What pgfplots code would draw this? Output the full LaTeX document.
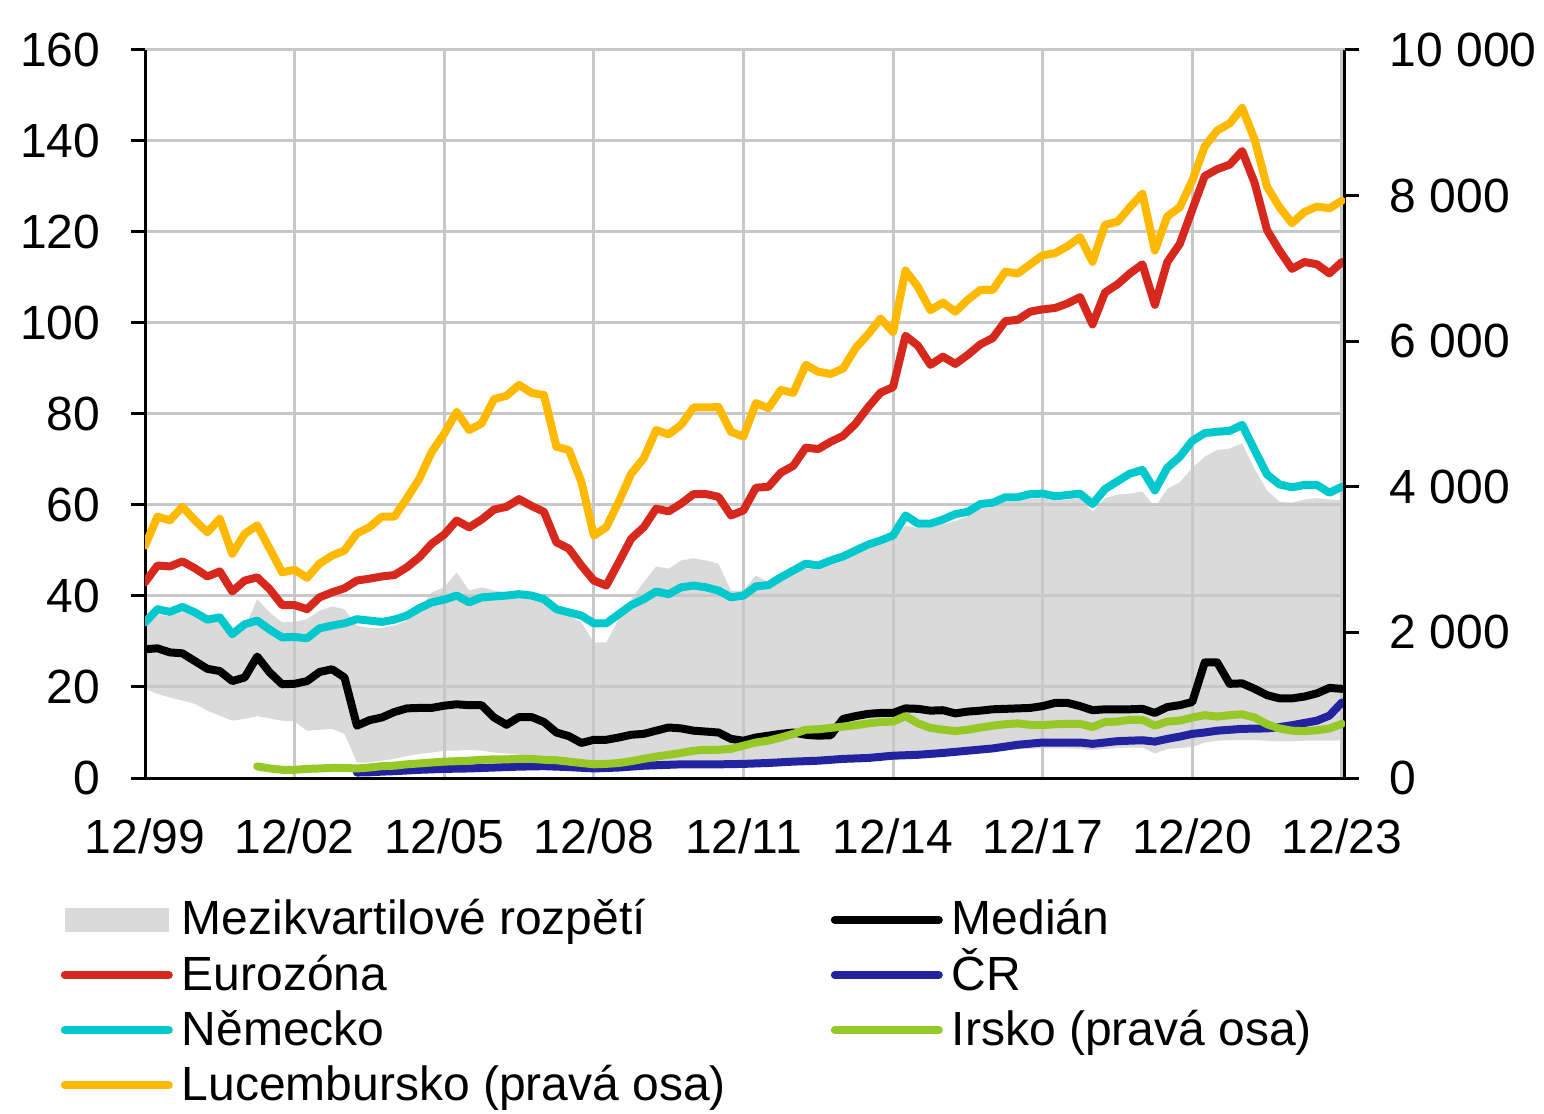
\documentclass[border=0pt]{standalone}
\usepackage{fontspec}
\setmainfont{Liberation Sans}
\usepackage{pgfplots}
\usepackage{pgfplotstable}
\pgfplotsset{compat=1.18}
\usepgfplotslibrary{fillbetween}

\definecolor{cEA}{RGB}{215,40,30}
\definecolor{cDE}{RGB}{0,200,205}
\definecolor{cLU}{RGB}{255,185,0}
\definecolor{cIE}{RGB}{150,200,40}
\definecolor{cCR}{RGB}{35,35,160}
\definecolor{cBand}{RGB}{218,218,218}
\definecolor{cGrid}{RGB}{200,200,200}

% quarters since 12/99; left axis series
\pgfplotstableread{
q hi lo med ea de cr
0 33.0 19.6 28.3 43.0 34.2 nan
1 36.0 18.5 28.5 46.7 37.1 nan
2 35.5 17.7 27.6 46.5 36.5 nan
3 36.5 17.0 27.4 47.6 37.6 nan
4 35.5 16.3 25.7 46.1 36.4 nan
5 34.0 14.8 24.0 44.3 34.8 nan
6 34.5 13.7 23.5 45.4 35.3 nan
7 31.0 12.6 21.3 41.0 31.6 nan
8 33.0 13.0 22.1 43.4 33.8 nan
9 39.3 13.6 26.7 44.1 34.6 nan
10 36.4 13.1 23.2 41.5 32.6 nan
11 34.2 12.6 20.6 38.0 30.9 nan
12 34.3 12.4 20.7 38.0 31.0 nan
13 34.9 10.4 21.3 37.1 30.7 nan
14 36.8 10.6 23.3 39.7 32.9 nan
15 37.7 10.8 23.9 40.8 33.5 nan
16 37.1 9.7 22.1 41.7 34.0 nan
17 33.5 3.4 11.5 43.4 34.9 1.2
18 33.0 3.4 12.7 43.8 34.6 1.25
19 33.0 3.8 13.3 44.3 34.3 1.4
20 33.5 4.2 14.5 44.6 34.8 1.5
21 34.6 4.8 15.3 46.3 35.7 1.65
22 37.1 5.3 15.4 48.5 37.3 1.8
23 40.8 5.6 15.4 51.5 38.6 1.9
24 41.9 6.0 15.9 53.5 39.2 2.0
25 45.2 6.0 16.2 56.6 40.1 2.05
26 41.2 6.2 16.0 55.1 38.6 2.1
27 41.9 6.0 16.0 56.8 39.7 2.2
28 41.2 5.6 13.3 59.0 39.9 2.3
29 40.8 5.4 11.7 59.6 40.1 2.4
30 40.1 5.1 13.4 61.3 40.4 2.5
31 40.1 4.8 13.4 59.8 40.1 2.55
32 39.3 4.5 12.3 58.5 39.3 2.6
33 37.0 4.2 10.0 51.8 37.1 2.5
34 35.7 3.8 9.2 50.4 36.4 2.4
35 34.2 3.4 7.7 46.7 35.7 2.25
36 29.8 2.2 8.4 43.4 34.0 2.1
37 29.8 2.3 8.4 42.3 34.0 2.2
38 34.9 2.4 8.9 47.4 36.0 2.3
39 39.3 2.5 9.5 52.6 38.0 2.5
40 43.0 2.6 9.7 55.1 39.3 2.7
41 46.5 2.7 10.4 59.2 41.0 2.8
42 46.0 2.8 11.1 58.6 40.4 2.9
43 47.8 2.9 10.9 60.3 41.9 3.0
44 48.3 2.9 10.4 62.4 42.3 3.0
45 47.8 2.9 10.2 62.4 41.9 3.0
46 47.1 2.9 10.0 61.8 41.2 3.0
47 41.2 2.9 8.6 57.7 39.7 3.05
48 41.2 3.0 8.2 58.8 40.1 3.1
49 44.5 3.1 8.9 63.8 42.1 3.2
50 43.0 3.2 9.3 64.0 42.4 3.3
51 43.2 3.3 9.7 67.1 44.1 3.45
52 44.6 3.4 10.0 68.6 45.6 3.6
53 46.1 3.5 9.5 72.6 47.1 3.7
54 45.7 3.6 9.3 72.3 46.7 3.8
55 46.8 3.8 9.4 73.9 47.8 4.0
56 47.7 4.0 13.0 75.2 48.7 4.2
57 49.0 4.1 13.6 77.9 50.0 4.3
58 50.3 4.3 14.1 81.5 51.3 4.4
59 51.2 4.5 14.3 84.7 52.2 4.65
60 52.3 4.6 14.3 85.9 53.3 4.9
61 55.5 4.8 15.3 97.2 57.7 5.0
62 54.9 5.0 15.2 95.0 55.9 5.1
63 54.9 5.1 14.8 90.8 55.9 5.3
64 55.8 5.2 14.9 92.6 56.8 5.5
65 56.5 5.4 14.2 91.0 58.0 5.75
66 57.5 5.6 14.6 93.0 58.5 6.0
67 59.2 5.7 14.8 95.3 60.2 6.25
68 59.5 5.9 15.1 96.7 60.5 6.5
69 60.7 6.1 15.2 100.4 61.7 6.9
70 60.7 6.3 15.3 100.7 61.7 7.3
71 61.4 6.4 15.4 102.5 62.4 7.55
72 61.5 6.5 15.8 103.0 62.5 7.8
73 60.9 6.5 16.5 103.3 61.9 7.8
74 61.2 6.5 16.5 104.3 62.2 7.8
75 61.5 6.4 15.8 105.7 62.5 7.8
76 58.5 6.1 14.9 99.7 60.2 7.5
77 61.5 6.4 15.1 106.7 63.5 7.8
78 62.3 6.6 15.1 108.5 65.2 8.1
79 62.5 6.7 15.1 110.9 66.9 8.2
80 63.0 6.7 15.2 112.9 67.7 8.3
81 59.5 5.4 14.3 104.0 63.2 8.0
82 63.5 6.4 15.6 113.4 68.2 8.6
83 65.0 6.6 16.0 117.4 70.6 9.1
84 68.2 6.8 16.7 124.9 74.1 9.7
85 70.6 7.8 25.4 132.3 75.8 10.0
86 72.1 8.2 25.4 133.8 76.1 10.4
87 72.4 8.3 20.7 134.8 76.3 10.6
88 73.6 8.3 20.8 137.8 77.6 10.8
89 67.9 8.3 19.6 130.8 72.1 10.85
90 63.2 8.2 18.2 120.4 66.7 10.9
91 60.7 8.1 17.5 115.9 64.5 11.2
92 60.5 8.1 17.5 111.9 63.9 11.6
93 61.2 8.2 17.9 113.4 64.4 12.1
94 61.5 8.2 18.6 112.9 64.4 12.6
95 61.2 8.2 19.8 110.9 62.7 13.7
96 61.0 8.3 19.6 113.4 64.0 16.6
}\tblL

% right axis series
\pgfplotstableread{
q lu ie
0 3190 nan
1 3590 nan
2 3540 nan
3 3725 nan
4 3540 nan
5 3375 nan
6 3560 nan
7 3080 nan
8 3355 nan
9 3470 160
10 3150 131
11 2825 113
12 2860 113
13 2750 125
14 2945 131
15 3055 138
16 3125 138
17 3360 131
18 3445 144
19 3590 163
20 3590 169
21 3840 188
22 4110 200
23 4480 213
24 4730 225
25 5030 231
26 4780 238
27 4870 250
28 5205 256
29 5250 256
30 5400 263
31 5290 263
32 5260 250
33 4550 244
34 4505 225
35 4070 206
36 3330 188
37 3445 194
38 3795 206
39 4180 231
40 4390 263
41 4780 294
42 4720 319
43 4850 344
44 5090 375
45 5090 388
46 5095 388
47 4755 400
48 4690 444
49 5150 488
50 5080 513
51 5330 556
52 5290 606
53 5675 663
54 5580 669
55 5550 688
56 5625 706
57 5905 725
58 6095 750
59 6310 769
60 6125 775
61 6970 850
62 6745 750
63 6425 688
64 6530 663
65 6405 644
66 6570 663
67 6705 694
68 6705 719
69 6955 738
70 6930 750
71 7055 731
72 7180 725
73 7210 738
74 7305 744
75 7430 744
76 7090 700
77 7600 769
78 7640 775
79 7840 800
80 8025 800
81 7245 719
82 7715 775
83 7840 788
84 8205 831
85 8675 863
86 8895 844
87 8990 863
88 9205 875
89 8770 831
90 8120 738
91 7840 681
92 7620 650
93 7775 644
94 7850 656
95 7825 681
96 7930 744
}\tblR

\begin{document}
\begin{tikzpicture}[font=\fontsize{12bp}{14bp}\selectfont]
\pgfplotsset{
  base/.style={
    scale only axis, width=300bp, height=182bp,
    at={(0,0)}, anchor=south west,
    xmin=0, xmax=96.25,
    axis line style={-, line width=0.75bp, black},
    tick align=outside, major tick length=3.5bp,
    tick style={line width=0.75bp, black},
    scaled y ticks=false,
    /pgf/number format/assume math mode=true,
    /pgf/number format/1000 sep={\ },
    tick label style={font=\fontsize{12bp}{14bp}\selectfont, inner sep=0pt},
  },
  ln/.style={line width=2bp, line join=round, line cap=round},
}
\begin{axis}[base, set layers,
  ymin=0, ymax=160, ytick={0,20,...,160},
  xtick={0,12,...,96},
  xticklabels={12/99,12/02,12/05,12/08,12/11,12/14,12/17,12/20,12/23},
  axis x line*=bottom, axis y line*=left,
  xtick style={draw=none},
  xmajorgrids, ymajorgrids,
  grid style={line width=0.75bp, cGrid},
  xticklabel style={yshift=-6.5bp},
  yticklabel style={xshift=-7.5bp},
  legend columns=2, legend cell align=left,
  legend style={at={(axis description cs:-0.0708,-0.1558)}, anchor=north west,
    draw=none, fill=none, inner sep=0pt, row sep=0pt,
    font=\fontsize{12bp}{14bp}\selectfont,
    nodes={inner sep=0pt, text height=10.65bp, text depth=3.15bp},
    /tikz/every odd column/.append style={column sep=2.25bp}},
  legend image code/.code={\draw[#1, line cap=round] (0bp,0bp) -- (26bp,0bp);},
]
\addplot[draw=none, name path=hi, forget plot] table[x=q, y=hi] {\tblL};
\addplot[draw=none, name path=lo, forget plot] table[x=q, y=lo] {\tblL};
\addplot[fill=cBand, draw=none,
  legend image code/.code={\fill[cBand] (0bp,-3bp) rectangle (26bp,3bp);}]
  fill between[of=hi and lo, on layer=axis background];
\addlegendentry{\makebox[162.25bp][l]{Mezikvartilové rozpětí}}
\addplot[ln, black] table[x=q, y=med] {\tblL};
\addlegendentry{Medián}
\addplot[ln, cEA] table[x=q, y=ea] {\tblL};
\addlegendentry{\makebox[162.25bp][l]{Eurozóna}}
\addplot[ln, cCR] table[x=q, y=cr] {\tblL};
\addlegendentry{ČR}
\addplot[ln, cDE] table[x=q, y=de] {\tblL};
\addlegendentry{\makebox[162.25bp][l]{Německo}}
\addlegendimage{ln, cIE}
\addlegendentry{Irsko (pravá osa)}
\addlegendimage{ln, cLU}
\addlegendentry{\makebox[162.25bp][l]{Lucembursko (pravá osa)}}
\end{axis}
\begin{axis}[base,
  ymin=0, ymax=10000, ytick={0,2000,...,10000},
  axis x line=none, axis y line*=right,
  yticklabel style={xshift=7.5bp},
]
\addplot[ln, cIE] table[x=q, y=ie] {\tblR};
\addplot[ln, cLU] table[x=q, y=lu] {\tblR};
\end{axis}
\pgfresetboundingbox
\path[use as bounding box] (-36.25bp,-84bp) rectangle (349.75bp,194.5bp);
\end{tikzpicture}
\end{document}
